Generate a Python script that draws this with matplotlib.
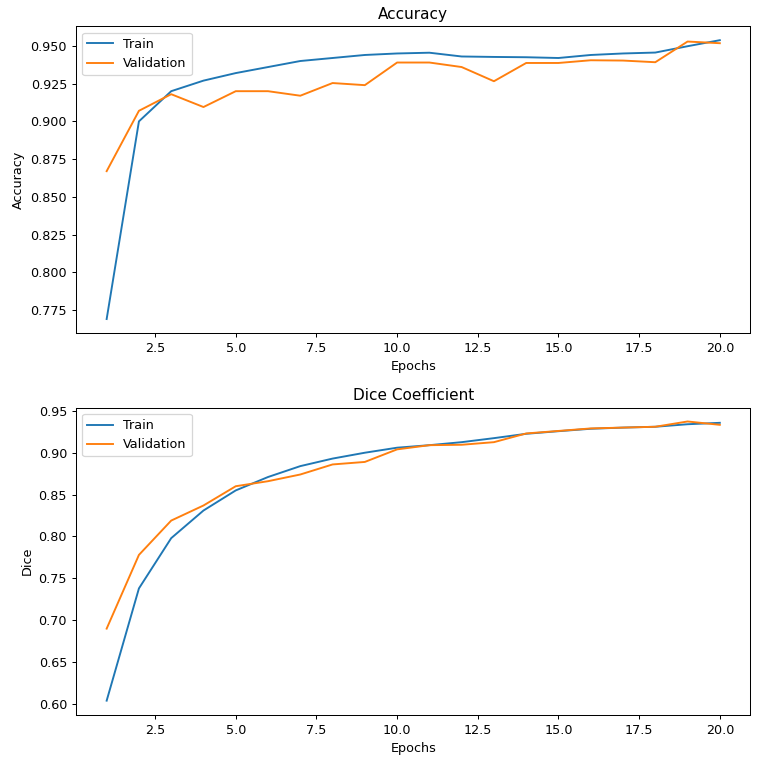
import matplotlib
matplotlib.use("Agg")
import matplotlib.pyplot as plt

# values
epochs = list(range(1, 21))

acc_train = [0.769, 0.900, 0.920, 0.927, 0.932, 0.936, 0.940, 0.942, 0.944, 0.945,
             0.9455, 0.943, 0.9427, 0.9425, 0.942, 0.944, 0.945, 0.9456, 0.9498, 0.9538]
acc_val = [0.867, 0.907, 0.918, 0.9095, 0.920, 0.920, 0.917, 0.9254, 0.924, 0.939,
           0.939, 0.936, 0.9266, 0.9387, 0.9387, 0.9405, 0.9403, 0.9392, 0.9529, 0.9518]

dice_train = [0.604, 0.738, 0.798, 0.831, 0.855, 0.871, 0.884, 0.893, 0.900, 0.906,
              0.909, 0.9126, 0.9174, 0.9226, 0.9257, 0.9286, 0.930, 0.931, 0.934, 0.9357]
dice_val = [0.690, 0.778, 0.819, 0.837, 0.860, 0.866, 0.874, 0.886, 0.889, 0.904,
            0.909, 0.9095, 0.9126, 0.923, 0.926, 0.929, 0.930, 0.931, 0.9373, 0.9333]

# the reference looks like a default figure drawn at a higher dpi
DPI = 91.6
fig = plt.figure(figsize=(763 / DPI, 763 / DPI), dpi=DPI)

ax1 = fig.add_axes([0.0996, 0.5636, 0.884, 0.402])
ax1.plot(epochs, acc_train, label="Train")
ax1.plot(epochs, acc_val, label="Validation")
ax1.set_title("Accuracy")
ax1.set_xlabel("Epochs")
ax1.set_ylabel("Accuracy")
ax1.legend(loc="upper left")

ax2 = fig.add_axes([0.0996, 0.0634, 0.884, 0.4025])
ax2.plot(epochs, dice_train, label="Train")
ax2.plot(epochs, dice_val, label="Validation")
ax2.set_title("Dice Coefficient")
ax2.set_xlabel("Epochs")
ax2.set_ylabel("Dice")
ax2.legend(loc="upper left")

fig.savefig("out.png", dpi=DPI)
